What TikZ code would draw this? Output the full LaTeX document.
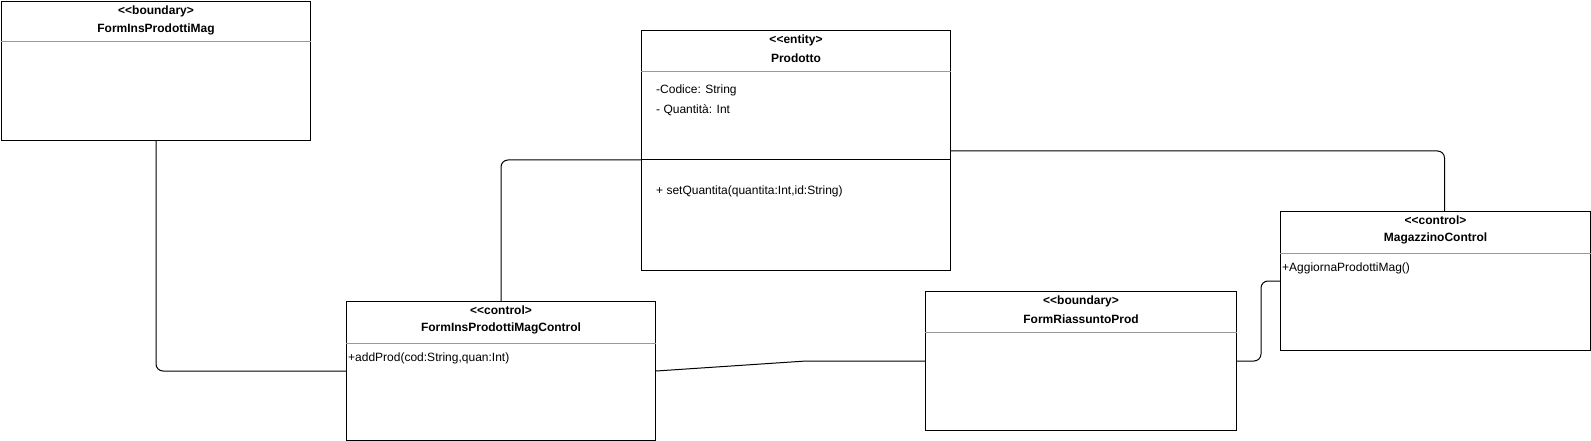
\documentclass[tikz,border=0pt]{standalone}
\usepackage{fontspec}
\setmainfont{Liberation Sans}
\usetikzlibrary{calc,positioning}
\tikzset{>=latex,
  classbox/.style={draw,line width=1pt,anchor=north west,inner sep=0pt},
  stereo/.style={inner sep=0pt,font=\bfseries\fontsize{12}{14}\selectfont},
  member/.style={anchor=west,inner sep=0pt,font=\fontsize{12}{14}\selectfont},
  sepline/.style={draw=black!40,line width=1pt},
  link/.style={line width=1pt,rounded corners=7pt}}

\begin{document}
\begin{tikzpicture}[x=1pt,y=-1pt]
    \useasboundingbox (0,0) rectangle (1591,441);
    % classes
    \node[classbox,minimum width=309pt,minimum height=139pt] (fim) at (1,1) {};
    \node[classbox,minimum width=309pt,minimum height=240pt] (prod) at (641,30) {};
    \node[classbox,minimum width=309pt,minimum height=139pt] (fimc) at (346,301) {};
    \node[classbox,minimum width=311pt,minimum height=139pt] (frp) at (925,291) {};
    \node[classbox,minimum width=310pt,minimum height=139pt] (mc) at (1280,211) {};
    % FormInsProdottiMag
    \node[stereo] (fimst) at ($(fim.north)+(0,10)$) {{<}{<}boundary{>}};
    \node[stereo] (fimname) at ($(fim.north)+(0,28)$) {FormInsProdottiMag};
    \draw[sepline] ($(fim.north west)+(0,41)$) -- ($(fim.north east)+(0,41)$);
    % Prodotto
    \node[stereo] (prodst) at ($(prod.north)+(0,10)$) {{<}{<}entity{>}};
    \node[stereo] (prodname) at ($(prod.north)+(0,28)$) {Prodotto};
    \draw[sepline] ($(prod.north west)+(0,42)$) -- ($(prod.north east)+(0,42)$);
    \node[member] (prodcod) at ($(prod.north west)+(15,60)$) {-Codice: String};
    \node[member] (prodqta) at ($(prod.north west)+(15,80)$) {- Quantità: Int};
    \draw[line width=1pt] ($(prod.north west)+(0,130)$) coordinate (prodsepw)
      -- ($(prod.north east)+(0,130)$);
    \coordinate (prodrel) at ($(prod.north east)+(0,121)$);
    \node[member] (prodset) at ($(prod.north west)+(15,161)$) {+ setQuantita(quantita:Int,id:String)};
    % FormInsProdottiMagControl
    \node[stereo] (fimcst) at ($(fimc.north)+(0,9)$) {{<}{<}control{>}};
    \node[stereo] (fimcname) at ($(fimc.north)+(0,27)$) {FormInsProdottiMagControl};
    \draw[sepline] ($(fimc.north west)+(0,42)$) -- ($(fimc.north east)+(0,42)$);
    \node[member] (fimcadd) at ($(fimc.north west)+(2,57)$) {+addProd(cod:String,quan:Int)};
    % FormRiassuntoProd
    \node[stereo] (frpst) at ($(frp.north)+(0,10)$) {{<}{<}boundary{>}};
    \node[stereo] (frpname) at ($(frp.north)+(0,28)$) {FormRiassuntoProd};
    \draw[sepline] ($(frp.north west)+(0,41)$) -- ($(frp.north east)+(0,41)$);
    % MagazzinoControl
    \node[stereo] (mcst) at ($(mc.north)+(0,9)$) {{<}{<}control{>}};
    \node[stereo] (mcname) at ($(mc.north)+(0,27)$) {MagazzinoControl};
    \draw[sepline] ($(mc.north west)+(0,42)$) -- ($(mc.north east)+(0,42)$);
    \node[member] (mcagg) at ($(mc.north west)+(2,57)$) {+AggiornaProdottiMag()};
    % associations
    \draw[link] (fim.south) |- (fimc.west);
    \coordinate (bend) at ($(frp.west)+(-119,0)$);
    \draw[line width=1pt] (fimc.east) -- (bend) -- (frp.west);
    \draw[link] (frp.east) -- ++(24,0) |- (mc.west);
    \draw[link] (prodsepw) -| (fimc.north);
    \draw[link] (prodrel) -| ($(mc.north)+(9,0)$);
\end{tikzpicture}
\end{document}
